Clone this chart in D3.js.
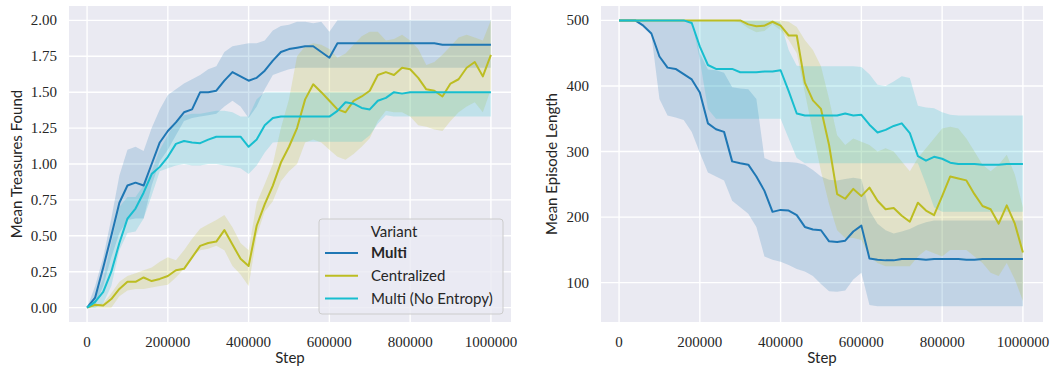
<!DOCTYPE html>
<html>
<head>
<meta charset="utf-8">
<script src="https://cdn.jsdelivr.net/npm/d3@7"></script>
<style>
  body { margin: 0; background: #fff; }
  svg { display: block; }
  .tick-label { font-family: "Liberation Serif", serif; font-size: 15px; fill: #262626; }
  .axis-label { font-family: Lato, "DejaVu Sans", sans-serif; font-size: 15px; fill: #262626; }
  .legend-text { font-family: Lato, "DejaVu Sans", sans-serif; font-size: 15px; fill: #262626; }
</style>
</head>
<body>
<svg id="chart" width="1056" height="375"></svg>
<script>
// training steps, one sample every 20000
const steps = [0, 20000, 40000, 60000, 80000, 100000, 120000, 140000, 160000, 180000,
  200000, 220000, 240000, 260000, 280000, 300000, 320000, 340000, 360000, 380000,
  400000, 420000, 440000, 460000, 480000, 500000, 520000, 540000, 560000, 580000,
  600000, 620000, 640000, 660000, 680000, 700000, 720000, 740000, 760000, 780000,
  800000, 820000, 840000, 860000, 880000, 900000, 920000, 940000, 960000, 980000,
  1000000];

const variants = ["Multi", "Centralized", "Multi (No Entropy)"];
const colors = ["#1f77b4", "#bcbd22", "#17becf"];

const xTicks = [0, 200000, 400000, 600000, 800000, 1000000];
const treasureTicks = [0, 0.25, 0.5, 0.75, 1, 1.25, 1.5, 1.75, 2];
const lengthTicks = [100, 200, 300, 400, 500];

// ---- Mean Treasures Found ----
const treasureMulti = [0,0.07,0.28,0.50,0.73,0.85,0.87,0.85,1.00,1.15,
  1.23,1.29,1.36,1.38,1.50,1.50,1.51,1.58,1.64,1.61,
  1.58,1.60,1.65,1.72,1.78,1.80,1.81,1.82,1.82,1.78,
  1.74,1.84,1.84,1.84,1.84,1.84,1.84,1.84,1.84,1.84,
  1.84,1.84,1.84,1.84,1.83,1.83,1.83,1.83,1.83,1.83,1.83];
const treasureMultiHi = [0,0.15,0.35,0.62,0.92,1.10,1.12,1.09,1.25,1.38,
  1.48,1.52,1.56,1.59,1.62,1.66,1.68,1.78,1.82,1.83,
  1.84,1.84,1.86,1.93,1.96,1.97,1.99,1.99,1.98,1.99,
  1.92,2,2,2,2,2,2,2,2,2,
  2,2,2,2,2,2,2,2,2,2,2];
const treasureMultiLo = [0,0.02,0.15,0.35,0.52,0.61,0.62,0.62,0.85,1.02,
  1.10,1.20,1.30,1.32,1.33,1.34,1.35,1.40,1.44,1.40,
  1.32,1.40,1.52,1.62,1.64,1.66,1.67,1.67,1.67,1.67,
  1.67,1.67,1.67,1.67,1.67,1.67,1.67,1.67,1.67,1.67,
  1.67,1.67,1.67,1.67,1.67,1.67,1.67,1.67,1.67,1.67,1.67];

const treasureCentral = [0,0.02,0.015,0.06,0.13,0.18,0.18,0.21,0.185,0.20,
  0.22,0.26,0.27,0.35,0.43,0.45,0.46,0.54,0.44,0.34,
  0.29,0.57,0.72,0.85,1.01,1.12,1.25,1.45,1.555,1.50,
  1.44,1.38,1.36,1.44,1.47,1.51,1.62,1.64,1.62,1.67,
  1.66,1.60,1.52,1.51,1.47,1.56,1.59,1.67,1.71,1.61,1.76];
const treasureCentralHi = [0,0.02,0.03,0.10,0.18,0.22,0.24,0.26,0.28,0.32,
  0.35,0.33,0.40,0.48,0.55,0.58,0.61,0.645,0.56,0.45,
  0.40,0.73,0.86,1.00,1.25,1.45,1.75,1.82,1.84,1.83,
  1.80,1.74,1.77,1.83,1.89,1.92,1.92,1.86,1.87,1.90,
  1.86,1.80,1.69,1.71,1.76,1.82,1.88,1.90,1.88,1.86,2.0];
const treasureCentralLo = [0,0,0,0,0.08,0.12,0.13,0.13,0.14,0.15,
  0.16,0.21,0.27,0.36,0.40,0.41,0.43,0.40,0.29,0.23,
  0.15,0.50,0.67,0.74,0.88,0.95,1.00,1.15,1.17,1.15,
  1.10,1.05,1.03,1.07,1.12,1.18,1.30,1.37,1.36,1.36,
  1.33,1.27,1.26,1.24,1.23,1.30,1.36,1.40,1.43,1.36,1.52];

const treasureNoEnt = [0,0.04,0.11,0.25,0.45,0.62,0.69,0.80,0.93,0.98,
  1.05,1.14,1.16,1.15,1.145,1.17,1.19,1.19,1.19,1.19,
  1.12,1.17,1.27,1.32,1.33,1.33,1.33,1.33,1.33,1.33,
  1.33,1.37,1.43,1.42,1.39,1.38,1.44,1.46,1.50,1.49,
  1.50,1.50,1.50,1.50,1.50,1.50,1.50,1.50,1.50,1.50,1.50];
const treasureNoEntHi = [0,0.08,0.20,0.45,0.70,0.77,0.77,0.85,0.95,1.10,
  1.20,1.30,1.34,1.35,1.35,1.36,1.37,1.37,1.36,1.33,
  1.33,1.45,1.50,1.50,1.50,1.50,1.50,1.50,1.50,1.50,
  1.50,1.50,1.50,1.50,1.50,1.50,1.50,1.50,1.50,1.50,
  1.50,1.50,1.50,1.50,1.50,1.50,1.50,1.50,1.50,1.50,1.50];
const treasureNoEntLo = [0,0,0.03,0.15,0.40,0.52,0.53,0.62,0.78,0.95,
  0.97,0.99,1.00,0.99,0.99,1.00,1.00,0.99,0.98,0.97,
  0.93,0.99,1.08,1.15,1.155,1.155,1.155,1.155,1.155,1.155,
  1.155,1.155,1.155,1.155,1.155,1.20,1.28,1.34,1.33,1.33,
  1.33,1.33,1.33,1.33,1.33,1.33,1.33,1.33,1.33,1.33,1.33];

// ---- Mean Episode Length ----
const lengthMulti = [500,500,500,492,480,445,428,426,418,410,
  390,343,334,330,285,282,280,262,240,208,
  211,210,203,185,181,180,163,162,164,178,
  187,137,135,134,134,136,136,136,135,136,
  136,136,136,135,135,136,136,136,136,136,136];
const lengthMultiHi = [500,500,500,500,500,500,500,500,500,500,
  450,425,424,420,398,396,395,380,290,285,
  284,284,283,280,272,262,257,256,258,260,
  258,210,190,180,175,178,182,188,192,195,
  195,195,195,195,195,195,195,195,195,195,195];
const lengthMultiLo = [500,500,500,492,478,380,355,352,348,330,
  298,268,262,256,225,215,205,185,140,135,
  132,127,121,117,110,98,87,86,88,105,
  115,66,64,64,64,64,64,64,64,64,
  64,64,64,64,64,64,64,64,64,64,64];

const lengthCentral = [500,500,500,500,500,500,500,500,500,500,
  500,500,500,500,500,500,494,491,492,498,
  492,477,477,405,378,365,310,235,228,243,
  232,245,225,212,214,202,193,222,210,203,
  232,262,259,256,235,217,212,190,218,190,146];
const lengthCentralHi = [500,500,500,500,500,500,500,500,500,500,
  500,500,500,500,500,500,500,500,500,500,
  500,498,490,470,455,430,380,325,310,320,
  315,310,300,305,300,285,270,290,305,320,
  335,338,335,320,300,280,270,280,295,265,215];
const lengthCentralLo = [500,500,500,500,500,500,500,500,500,500,
  500,500,500,500,500,497,488,482,484,494,
  485,470,450,390,330,270,220,180,168,168,
  165,140,130,125,125,125,125,140,150,145,
  140,150,150,150,140,130,115,110,130,105,72];

const lengthNoEnt = [500,500,500,500,500,500,500,500,500,496,
  460,432,426,426,426,421,421,421,422,422,
  424,392,358,355,355,355,355,355,358,355,
  356,341,329,333,339,343,328,293,286,292,
  289,283,281,281,281,280,280,280,281,281,281];
const lengthNoEntHi = [500,500,500,500,500,500,500,500,500,500,
  500,500,500,500,500,500,500,500,500,500,
  497,455,431,430,430,430,430,430,430,430,
  429,418,402,400,407,415,412,370,367,366,
  360,356,355,355,355,355,355,355,355,355,355];
const lengthNoEntLo = [500,500,500,500,500,500,500,500,500,500,
  440,365,350,350,350,350,350,350,350,350,
  350,320,290,282,282,282,282,282,282,282,
  282,282,282,282,282,282,282,282,250,215,
  208,208,208,208,208,208,208,208,208,208,208];

const svg = d3.select("#chart");
const plotTop = 6, plotBottom = 322;

const panels = [
  {
    left: 69, right: 511, ylabel: "Mean Treasures Found", yDomain: [-0.1, 2.1],
    ticks: treasureTicks, fmt: d3.format(".2f"), labelX: 22, legend: true,
    series: [
      [treasureMulti, treasureMultiLo, treasureMultiHi],
      [treasureCentral, treasureCentralLo, treasureCentralHi],
      [treasureNoEnt, treasureNoEntLo, treasureNoEntHi]
    ]
  },
  {
    left: 601, right: 1043, ylabel: "Mean Episode Length", yDomain: [40, 522],
    ticks: lengthTicks, fmt: d3.format("d"), labelX: 557, legend: false,
    series: [
      [lengthMulti, lengthMultiLo, lengthMultiHi],
      [lengthCentral, lengthCentralLo, lengthCentralHi],
      [lengthNoEnt, lengthNoEntLo, lengthNoEntHi]
    ]
  }
];

panels.forEach((p, pi) => {
  const x = d3.scaleLinear().domain([-44750, 1049750]).range([p.left, p.right]);
  const y = d3.scaleLinear().domain(p.yDomain).range([plotBottom, plotTop]);

  svg.append("defs").append("clipPath")
    .attr("id", "clip" + pi)
    .append("rect")
    .attr("x", p.left).attr("y", plotTop)
    .attr("width", p.right - p.left).attr("height", plotBottom - plotTop);

  const g = svg.append("g");
  g.append("rect")
    .attr("x", p.left).attr("y", plotTop)
    .attr("width", p.right - p.left).attr("height", plotBottom - plotTop)
    .attr("fill", "#eaeaf2");

  // grid
  g.selectAll(".gx").data(xTicks).join("line")
    .attr("x1", d => x(d)).attr("x2", d => x(d))
    .attr("y1", plotTop).attr("y2", plotBottom)
    .attr("stroke", "#fff").attr("stroke-width", 1.4);
  g.selectAll(".gy").data(p.ticks).join("line")
    .attr("x1", p.left).attr("x2", p.right)
    .attr("y1", d => y(d)).attr("y2", d => y(d))
    .attr("stroke", "#fff").attr("stroke-width", 1.4);

  // tick labels
  g.selectAll(".tx").data(xTicks).join("text")
    .attr("class", "tick-label")
    .attr("x", d => x(d)).attr("y", 347)
    .attr("text-anchor", "middle")
    .text(d => d);
  g.selectAll(".ty").data(p.ticks).join("text")
    .attr("class", "tick-label")
    .attr("x", p.left - 12).attr("y", d => y(d) + 5)
    .attr("text-anchor", "end")
    .text(p.fmt);

  g.append("text").attr("class", "axis-label")
    .attr("x", (p.left + p.right) / 2).attr("y", 363)
    .attr("text-anchor", "middle").text("Step");
  g.append("text").attr("class", "axis-label")
    .attr("transform", `translate(${p.labelX}, ${(plotTop + plotBottom) / 2}) rotate(-90)`)
    .attr("text-anchor", "middle").text(p.ylabel);

  const data_g = g.append("g").attr("clip-path", `url(#clip${pi})`);

  const area = d3.area()
    .x((d, i) => x(steps[i]))
    .y0(d => y(d[0]))
    .y1(d => y(d[1]));
  const line = d3.line()
    .x((d, i) => x(steps[i]))
    .y(d => y(d));

  p.series.forEach((s, si) => {
    data_g.append("path")
      .datum(s[1].map((lo, i) => [lo, s[2][i]]))
      .attr("d", area)
      .attr("fill", colors[si])
      .attr("fill-opacity", 0.2);
  });
  p.series.forEach((s, si) => {
    data_g.append("path")
      .datum(s[0])
      .attr("d", line)
      .attr("fill", "none")
      .attr("stroke", colors[si])
      .attr("stroke-width", 2)
      .attr("stroke-linejoin", "round");
  });

  if (p.legend) {
    const lg = g.append("g");
    lg.append("rect")
      .attr("x", 319).attr("y", 219).attr("width", 184).attr("height", 95).attr("rx", 3)
      .attr("fill", "#eaeaf2").attr("fill-opacity", 0.8)
      .attr("stroke", "#cccccc").attr("stroke-width", 1);
    lg.append("text").attr("class", "legend-text")
      .attr("x", 394).attr("y", 237).attr("text-anchor", "middle").text("Variant");
    const rows = lg.selectAll(".row").data(variants).join("g")
      .attr("transform", (d, i) => `translate(0, ${253 + i * 22.8})`);
    rows.append("line")
      .attr("x1", 325).attr("x2", 358)
      .attr("stroke", (d, i) => colors[i]).attr("stroke-width", 2);
    rows.append("text").attr("class", "legend-text")
      .attr("x", 371).attr("y", 5)
      .attr("font-weight", (d, i) => i === 0 ? "bold" : null)
      .text(d => d);
  }
});
</script>
</body>
</html>
